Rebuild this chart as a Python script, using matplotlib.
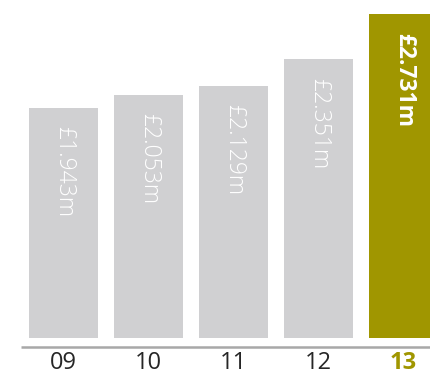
import matplotlib
matplotlib.use("Agg")
import matplotlib.pyplot as plt

years = ["09", "10", "11", "12", "13"]
revenue = [1.943, 2.053, 2.129, 2.351, 2.731]
labels = ["£1.943m", "£2.053m", "£2.129m", "£2.351m", "£2.731m"]

grey = "#d0d0d2"
olive = "#a09600"
colors = [grey, grey, grey, grey, olive]
font = ["Open Sans", "DejaVu Sans"]

fig = plt.figure(figsize=(4.31, 3.74), dpi=100)
ax = fig.add_axes([0, 0, 1, 1])
ax.set_xlim(-0.747, 4.324)
ax.set_ylim(-0.304, 2.852)
ax.axis("off")

x = list(range(len(years)))
ax.bar(x, revenue, width=0.82, color=colors, zorder=2)

# baseline under the bars
ax.plot([-0.5, 4.4], [-0.072, -0.072], color="#a8a8a8", lw=1.8,
        solid_capstyle="butt", zorder=1)

for i, (v, lab) in enumerate(zip(revenue, labels)):
    last = i == len(revenue) - 1
    ax.text(i + 0.01, v - 0.155, lab, rotation=270, ha="center", va="top",
            color="white", fontsize=16.5, family=font,
            fontweight="bold" if last else "light", zorder=3)
    ax.text(i, -0.258, years[i], ha="center", va="baseline",
            fontsize=17, family=font,
            fontweight="bold" if last else "normal",
            color=olive if last else "#262626")

fig.savefig("out.png", dpi=100)
